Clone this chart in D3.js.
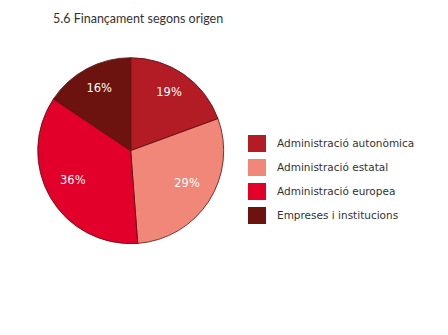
<!DOCTYPE html>
<html><head><meta charset="utf-8">
<script src="https://cdn.jsdelivr.net/npm/d3@7"></script>
<style>body{margin:0;background:#fff;}svg{display:block;}</style>
</head><body>
<script>
const categories = ["Administració autonòmica", "Administració estatal", "Administració europea", "Empreses i institucions"];
const values = [19.4, 29.4, 35.6, 15.6];
const colors = ["#b31b25", "#f08778", "#e2002b", "#6c130f"];
const title = "5.6 Finançament segons origen";

const W = 448, H = 335;
const svg = d3.select("body").append("svg").attr("width", W).attr("height", H);

svg.append("text").attr("x", 53).attr("y", 23)
  .attr("font-family", "Lato, sans-serif").attr("font-size", 12.5)
  .attr("fill", "#333").text(title);

const cx = 130.7, cy = 150.7, R = 93;
const pie = d3.pie().sort(null).value(d => d)(values);
const arc = d3.arc().innerRadius(0).outerRadius(R);
const labelArc = d3.arc().innerRadius(67).outerRadius(67);
const g = svg.append("g").attr("transform", `translate(${cx},${cy})`);
g.selectAll("path").data(pie).join("path")
  .attr("d", arc).attr("fill", (d, i) => colors[i])
  .attr("stroke", "#5a0d0a").attr("stroke-width", 0.8);
g.selectAll("text").data(pie).join("text")
  .attr("transform", d => `translate(${labelArc.centroid(d)})`)
  .attr("text-anchor", "middle").attr("dy", "0em")
  .attr("font-family", "DejaVu Sans, Verdana, sans-serif").attr("font-size", 11.5)
  .attr("fill", "#fff").text(d => Math.round(d.data) + "%");

const y = d3.scaleBand().domain(categories).range([135, 231]);
const lg = svg.append("g");
lg.selectAll("rect").data(categories).join("rect")
  .attr("x", 248).attr("y", d => y(d)).attr("width", 18).attr("height", 17)
  .attr("fill", (d, i) => colors[i]);
lg.selectAll("text").data(categories).join("text")
  .attr("x", 277).attr("y", d => y(d) + 8.5).attr("dy", "0.35em")
  .attr("font-family", "DejaVu Sans, Verdana, sans-serif").attr("font-size", 10.5)
  .attr("fill", "#333").text(d => d);
</script>
</body></html>
